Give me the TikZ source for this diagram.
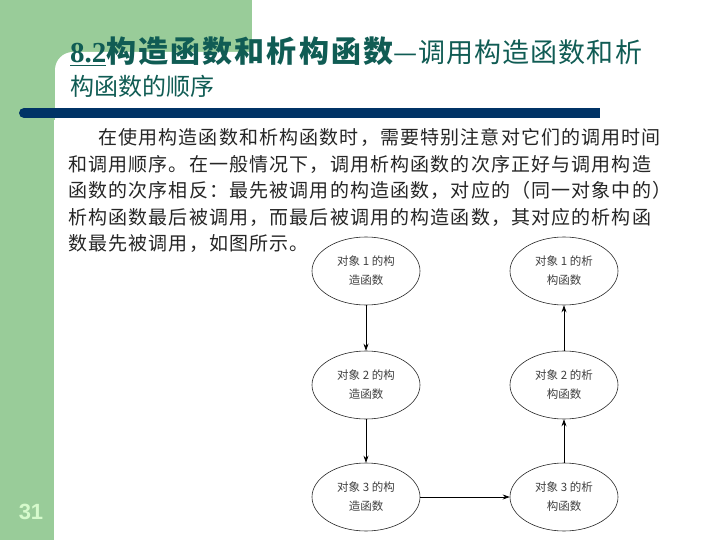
\documentclass[tikz,border=0pt]{standalone}
\usepackage{fontspec}
\setmainfont{Liberation Serif}
\newfontfamily\cjk{Noto Sans CJK SC}
\newfontfamily\numfont{Liberation Sans}
\definecolor{slgreen}{RGB}{153,204,153}
\definecolor{slnavy}{RGB}{0,51,102}
\definecolor{sltitle}{RGB}{16,92,84}
\definecolor{slnum}{RGB}{214,250,204}
\usetikzlibrary{arrows.meta,positioning,shapes.geometric}

\begin{document}
\begin{tikzpicture}[x=1pt, y=-1pt,
  objnode/.style={ellipse, draw=black!85, line width=0.6pt, minimum width=108pt,
    minimum height=68pt, inner sep=0pt, align=center, text=black!75,
    font=\cjk\fontsize{11.5}{19}\selectfont},
  callarrow/.style={-{Stealth[length=7pt,width=5pt]}, line width=0.7pt},
  bodyline/.style={anchor=base west, inner sep=0pt, text=black!85,
    font=\cjk\fontsize{19}{22}\selectfont\addfontfeatures{LetterSpace=6}}]

\useasboundingbox (0,0) rectangle (720,540);

% slide background
\fill[white] (0,0) rectangle (720,540);
\fill[slgreen] (0,0) rectangle (252,120);
\fill[slgreen] (0,0) rectangle (54,540);
\fill[white, rounded corners=18pt] (55,52) rectangle (740,560);
\fill[slnavy] (24,108) rectangle (600,118);
\fill[slnavy] (24,113) circle (5pt);

% title
\node[anchor=base west, inner sep=0pt, text=sltitle] (title1) at (70,63)
  {{\bfseries\fontsize{29}{30}\selectfont\underline{8.2}}%
   {\cjk\bfseries\fontsize{30}{32}\selectfont\addfontfeatures{LetterSpace=7}构造函数和析构函数}%
   {\cjk\fontsize{27}{30}\selectfont\addfontfeatures{LetterSpace=4}—调用构造函数和析}};
\node[anchor=base west, inner sep=0pt, text=sltitle] (title2) at (70,96)
  {\cjk\fontsize{24}{28}\selectfont 构函数的顺序};

% body text
\node[bodyline] (p1) at (98,145) {在使用构造函数和析构函数时，需要特别注意对它们的调用时间};
\node[bodyline] (p2) at (68,171.5) {和调用顺序。在一般情况下，调用析构函数的次序正好与调用构造};
\node[bodyline] (p3) at (68,198) {函数的次序相反：最先被调用的构造函数，对应的（同一对象中的）};
\node[bodyline] (p4) at (68,224.5) {析构函数最后被调用，而最后被调用的构造函数，其对应的析构函};
\node[bodyline] (p5) at (68,251) {数最先被调用，如图所示。};

% call order
\node[objnode] (c1) at (366,271) {对象 1 的构\\造函数};
\node[objnode] (c2) at (366,385) {对象 2 的构\\造函数};
\node[objnode] (c3) at (366,497) {对象 3 的构\\造函数};
\node[objnode] (d3) at (564,497) {对象 3 的析\\构函数};
\node[objnode] (d2) at (564,385) {对象 2 的析\\构函数};
\node[objnode] (d1) at (564,271) {对象 1 的析\\构函数};

\draw[callarrow] (c1) -- (c2);
\draw[callarrow] (c2) -- (c3);
\draw[callarrow] (c3) -- (d3);
\draw[callarrow] (d3) -- (d2);
\draw[callarrow] (d2) -- (d1);

% page number
\node[text=slnum, font=\numfont\bfseries\fontsize{22}{24}\selectfont] (pageno) at (31,512) {31};

\end{tikzpicture}
\end{document}
